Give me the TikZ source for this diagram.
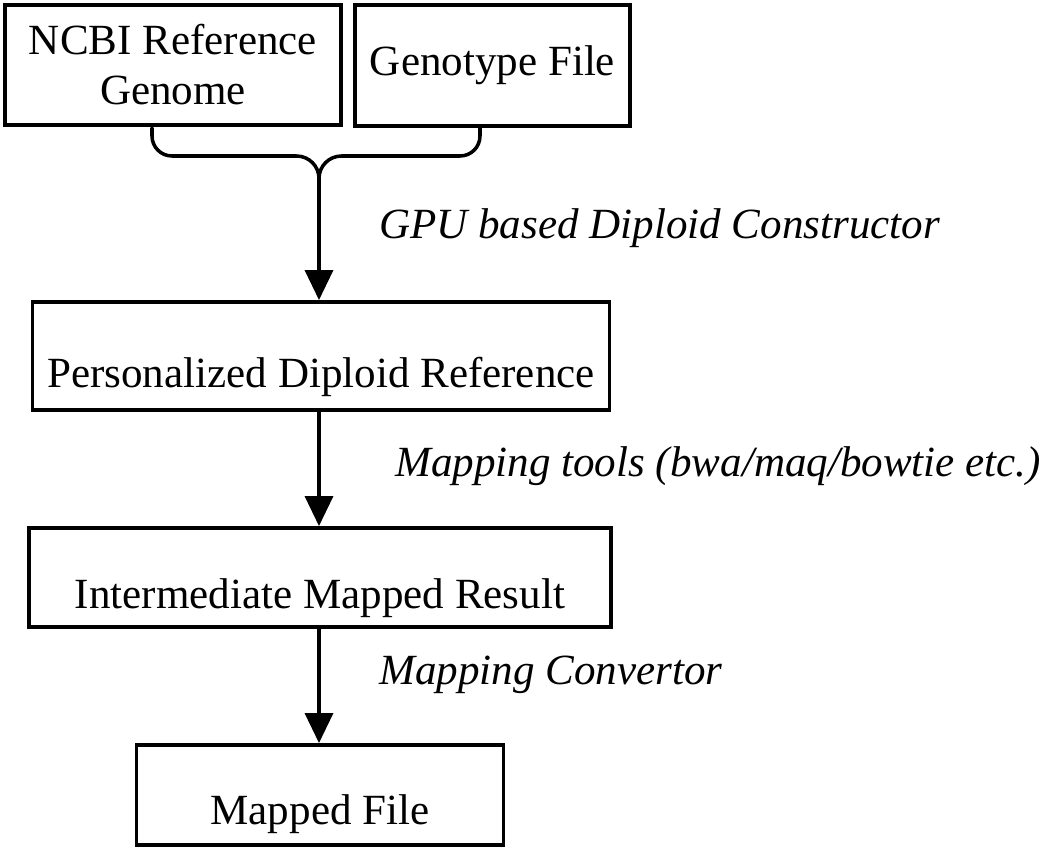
\documentclass[tikz,border=0pt]{standalone}
\usepackage{fontspec}
\setmainfont{Liberation Serif}
\usetikzlibrary{arrows.meta}

\begin{document}
\begin{tikzpicture}[line cap=round,line join=round,
  font=\fontsize{24.5pt}{28.5pt}\selectfont,
  box/.style={draw,line width=2.2pt,inner sep=0pt,line cap=butt,line join=miter},
  stage/.style={box,minimum width=#1},
  flow/.style={line width=2pt,-{Triangle[length=6.0mm,width=5.6mm]}},
  note/.style={anchor=west,font=\fontsize{24.5pt}{28.5pt}\selectfont\itshape}]
  \useasboundingbox (0,0) rectangle (21.00,-17.02);
  % inputs
  \node[box,minimum width=6.72cm,minimum height=2.40cm,align=center] (ncbi) at (3.46,-1.30) {NCBI Reference\\Genome};
  \node[box,minimum width=5.50cm,minimum height=2.42cm] (geno) at (9.85,-1.31) {Genotype File};
  % brace joining the two inputs
  \coordinate (bl) at (3.04,-2.56);
  \coordinate (br) at (9.60,-2.56);
  \coordinate (tip) at (6.38,-3.57);
  \draw[line width=2pt] (bl) -- ++(0,-0.16) arc[start angle=180,end angle=270,radius=0.4]
    -- (5.93,-3.12) arc[start angle=90,end angle=0,radius=0.45];
  \draw[line width=2pt] (br) -- ++(0,-0.16) arc[start angle=0,end angle=-90,radius=0.4]
    -- (6.83,-3.12) arc[start angle=90,end angle=180,radius=0.45];
  % pipeline stages
  \node[stage=11.54cm,text height=1.70cm,text depth=0.46cm] (perso) at (6.42,-7.12) {Personalized Diploid Reference};
  \node[stage=11.64cm,text height=1.60cm,text depth=0.38cm] (inter) at (6.40,-11.55) {Intermediate Mapped Result};
  \node[stage=7.34cm,text height=1.58cm,text depth=0.42cm] (mapped) at (6.40,-15.90) {Mapped File};
  \draw[flow] (tip) -- (tip |- perso.north);
  \draw[flow] (perso.south -| tip) -- (inter.north -| tip);
  \draw[flow] (inter.south -| tip) -- (mapped.north -| tip);
  \node[note] (gpu) at (7.46,-4.56) {GPU based Diploid Constructor};
  \node[note] (tools) at (7.78,-9.32) {Mapping tools (bwa/maq/bowtie etc.)};
  \node[note] (conv) at (7.46,-13.50) {Mapping Convertor};
\end{tikzpicture}
\end{document}
